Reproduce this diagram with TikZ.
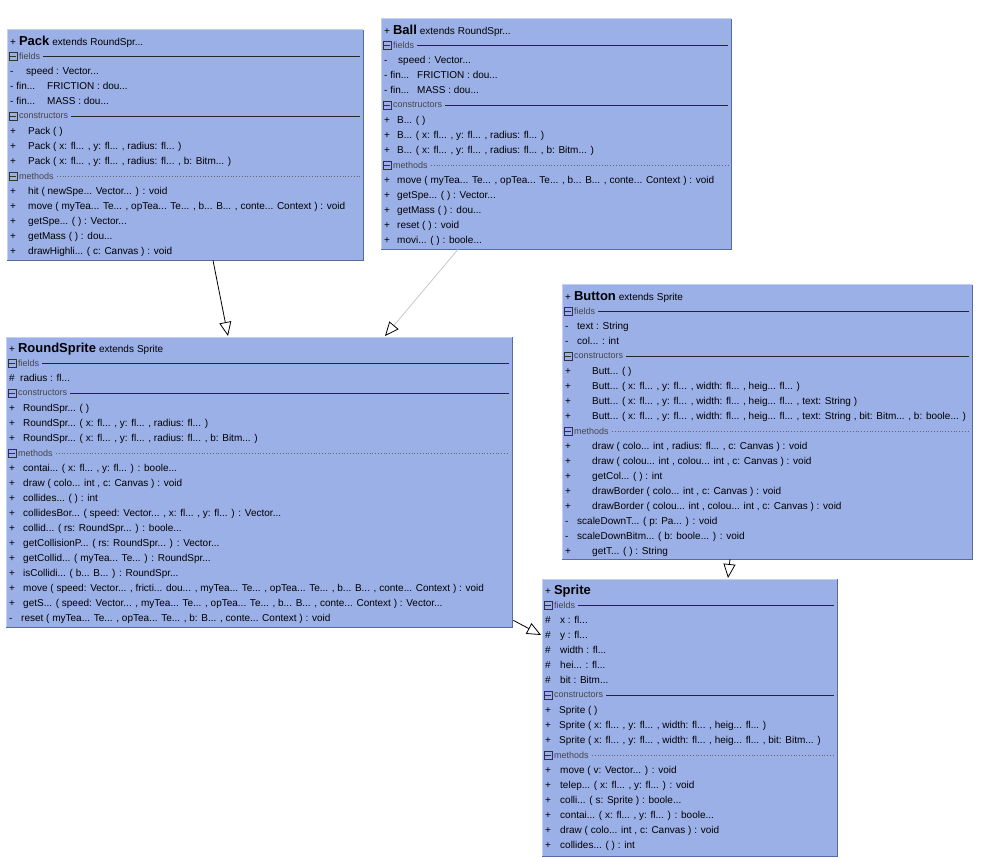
\documentclass[tikz,border=0pt]{standalone}
\usepackage{fontspec}
\setmainfont{Liberation Sans}
\usetikzlibrary{calc,arrows.meta}

\definecolor{umlfill}{RGB}{156,176,232}
\definecolor{umldark}{RGB}{90,106,156}
\definecolor{umllight}{RGB}{196,208,242}
\definecolor{seclabelcol}{RGB}{70,70,70}

\newcommand\rowfont{\fontsize{10}{12}\selectfont}
\newcommand\secfont{\fontsize{9}{10}\selectfont}
\newcommand\titlefont{\fontsize{13}{15}\selectfont\bfseries}

\tikzset{
  classbox/.style={rectangle, fill=umlfill, draw=none, inner sep=0pt, anchor=north west},
  edgelight/.style={draw=umllight, line width=1pt},
  edgedark/.style={draw=umldark, line width=1.6pt},
  rowtext/.style={anchor=base west, inner sep=0pt, font=\rowfont, text=black},
  seclabel/.style={inner sep=0pt, font=\secfont, text=seclabelcol},
  togglebox/.style={rectangle, draw=black!80, line width=0.7pt, inner sep=0pt, minimum size=8pt},
  toggleminus/.style={draw=black!80, line width=0.7pt},
  solidsep/.style={draw=black!85, line width=0.8pt},
  dottedsep/.style={draw=black!60, line width=0.8pt, dotted},
  inherit/.style={draw=black, line width=0.8pt,
    -{Triangle[length=14pt, width=12pt, fill=white, color=black]}},
  inheritlight/.style={draw=black!22, line width=0.8pt,
    -{Triangle[length=14pt, width=12pt, fill=white, color=black]}},
}

% class box: name, left, top, width, height
\newcommand\umlbox[5]{%
  \node[classbox, minimum width=#4pt, minimum height=#5pt] (#1) at (#2,#3) {};
  \draw[edgelight] (#1.south west) -- (#1.north west) -- (#1.north east);
  \draw[edgedark] (#1.north east) -- (#1.south east) -- (#1.south west);
}
% title row: box, class name, rest of the heading
\newcommand\umltitle[3]{%
  \node[rowtext] (#1-title) at ($(#1.north west)+(3,15.5)$)
    {+\hspace{3pt}{\titlefont #2}\hspace{3pt}#3};
}
% member row: box, row index, text indent, marker, text
\newcommand\umlrow[5]{%
  \node[rowtext] (#1-m#2) at ($(#1.north west)+(3,{14.5+15*#2})$) {#4};
  \node[rowtext] (#1-t#2) at ($(#1.north west)+(#3,{14.5+15*#2})$) {#5};
}
% section heading: box, row index, label, separator style
\newcommand\umlsec[4]{%
  \coordinate (#1-c#2) at ($(#1.north west)+(6,{11+15*#2})$);
  \node[togglebox] (#1-b#2) at (#1-c#2) {};
  \draw[toggleminus] ($(#1-b#2.west)+(1.6,0)$) -- ($(#1-b#2.east)+(-1.6,0)$);
  \node[seclabel, anchor=west] (#1-s#2) at ($(#1-c#2)+(6,0)$) {#3};
  \draw[#4] ($(#1-s#2.east)+(3,0)$) -- ($(#1-s#2.east -| #1.east)+(-3,0)$);
}

\begin{document}
\begin{tikzpicture}[x=1pt, y=-1pt]
\useasboundingbox (0,0) rectangle (995,858);

% ---------------- Pack ----------------
\umlbox{pack}{7}{30}{356}{230}
\umltitle{pack}{Pack}{extends\hspace{3pt}RoundSpr...}
\umlsec{pack}{1}{fields}{solidsep}
\umlrow{pack}{2}{19}{-}{speed : Vector...}
\umlrow{pack}{3}{40}{- fin...}{FRICTION : dou...}
\umlrow{pack}{4}{40}{- fin...}{MASS : dou...}
\umlsec{pack}{5}{constructors}{solidsep}
\umlrow{pack}{6}{21}{+}{Pack ( )}
\umlrow{pack}{7}{21}{+}{Pack ( x: fl... , y: fl... , radius: fl... )}
\umlrow{pack}{8}{21}{+}{Pack ( x: fl... , y: fl... , radius: fl... , b: Bitm... )}
\umlsec{pack}{9}{methods}{dottedsep}
\umlrow{pack}{10}{21}{+}{hit ( newSpe... Vector... ) : void}
\umlrow{pack}{11}{21}{+}{move ( myTea... Te... , opTea... Te... , b... B... , conte... Context ) : void}
\umlrow{pack}{12}{21}{+}{getSpe... ( ) : Vector...}
\umlrow{pack}{13}{21}{+}{getMass ( ) : dou...}
\umlrow{pack}{14}{21}{+}{drawHighli... ( c: Canvas ) : void}

% ---------------- Ball ----------------
\umlbox{ball}{381}{19}{350}{230}
\umltitle{ball}{Ball}{extends\hspace{3pt}RoundSpr...}
\umlsec{ball}{1}{fields}{solidsep}
\umlrow{ball}{2}{17}{-}{speed : Vector...}
\umlrow{ball}{3}{36}{- fin...}{FRICTION : dou...}
\umlrow{ball}{4}{36}{- fin...}{MASS : dou...}
\umlsec{ball}{5}{constructors}{solidsep}
\umlrow{ball}{6}{16}{+}{B... ( )}
\umlrow{ball}{7}{16}{+}{B... ( x: fl... , y: fl... , radius: fl... )}
\umlrow{ball}{8}{16}{+}{B... ( x: fl... , y: fl... , radius: fl... , b: Bitm... )}
\umlsec{ball}{9}{methods}{dottedsep}
\umlrow{ball}{10}{16}{+}{move ( myTea... Te... , opTea... Te... , b... B... , conte... Context ) : void}
\umlrow{ball}{11}{16}{+}{getSpe... ( ) : Vector...}
\umlrow{ball}{12}{16}{+}{getMass ( ) : dou...}
\umlrow{ball}{13}{16}{+}{reset ( ) : void}
\umlrow{ball}{14}{16}{+}{movi... ( ) : boole...}

% ---------------- RoundSprite ----------------
\umlbox{rs}{6}{337}{506}{290}
\umltitle{rs}{RoundSprite}{extends\hspace{3pt}Sprite}
\umlsec{rs}{1}{fields}{solidsep}
\umlrow{rs}{2}{14}{\#}{radius : fl...}
\umlsec{rs}{3}{constructors}{solidsep}
\umlrow{rs}{4}{17}{+}{RoundSpr... ( )}
\umlrow{rs}{5}{17}{+}{RoundSpr... ( x: fl... , y: fl... , radius: fl... )}
\umlrow{rs}{6}{17}{+}{RoundSpr... ( x: fl... , y: fl... , radius: fl... , b: Bitm... )}
\umlsec{rs}{7}{methods}{dottedsep}
\umlrow{rs}{8}{17}{+}{contai... ( x: fl... , y: fl... ) : boole...}
\umlrow{rs}{9}{17}{+}{draw ( colo... int , c: Canvas ) : void}
\umlrow{rs}{10}{17}{+}{collides... ( ) : int}
\umlrow{rs}{11}{17}{+}{collidesBor... ( speed: Vector... , x: fl... , y: fl... ) : Vector...}
\umlrow{rs}{12}{17}{+}{collid... ( rs: RoundSpr... ) : boole...}
\umlrow{rs}{13}{17}{+}{getCollisionP... ( rs: RoundSpr... ) : Vector...}
\umlrow{rs}{14}{17}{+}{getCollid... ( myTea... Te... ) : RoundSpr...}
\umlrow{rs}{15}{17}{+}{isCollidi... ( b... B... ) : RoundSpr...}
\umlrow{rs}{16}{17}{+}{move ( speed: Vector... , fricti... dou... , myTea... Te... , opTea... Te... , b... B... , conte... Context ) : void}
\umlrow{rs}{17}{17}{+}{getS... ( speed: Vector... , myTea... Te... , opTea... Te... , b... B... , conte... Context ) : Vector...}
\umlrow{rs}{18}{15}{-}{reset ( myTea... Te... , opTea... Te... , b: B... , conte... Context ) : void}

% ---------------- Button ----------------
\umlbox{button}{562}{285}{410}{274}
\umltitle{button}{Button}{extends\hspace{3pt}Sprite}
\umlsec{button}{1}{fields}{solidsep}
\umlrow{button}{2}{15}{-}{text : String}
\umlrow{button}{3}{15}{-}{col... : int}
\umlsec{button}{4}{constructors}{solidsep}
\umlrow{button}{5}{30}{+}{Butt... ( )}
\umlrow{button}{6}{30}{+}{Butt... ( x: fl... , y: fl... , width: fl... , heig... fl... )}
\umlrow{button}{7}{30}{+}{Butt... ( x: fl... , y: fl... , width: fl... , heig... fl... , text: String )}
\umlrow{button}{8}{30}{+}{Butt... ( x: fl... , y: fl... , width: fl... , heig... fl... , text: String , bit: Bitm... , b: boole... )}
\umlsec{button}{9}{methods}{dottedsep}
\umlrow{button}{10}{30}{+}{draw ( colo... int , radius: fl... , c: Canvas ) : void}
\umlrow{button}{11}{30}{+}{draw ( colou... int , colou... int , c: Canvas ) : void}
\umlrow{button}{12}{30}{+}{getCol... ( ) : int}
\umlrow{button}{13}{30}{+}{drawBorder ( colo... int , c: Canvas ) : void}
\umlrow{button}{14}{30}{+}{drawBorder ( colou... int , colou... int , c: Canvas ) : void}
\umlrow{button}{15}{15}{-}{scaleDownT... ( p: Pa... ) : void}
\umlrow{button}{16}{15}{-}{scaleDownBitm... ( b: boole... ) : void}
\umlrow{button}{17}{30}{+}{getT... ( ) : String}

% ---------------- Sprite ----------------
\umlbox{sprite}{542}{579}{295}{277}
\umltitle{sprite}{Sprite}{}
\umlsec{sprite}{1}{fields}{solidsep}
\umlrow{sprite}{2}{18}{\#}{x : fl...}
\umlrow{sprite}{3}{18}{\#}{y : fl...}
\umlrow{sprite}{4}{18}{\#}{width : fl...}
\umlrow{sprite}{5}{18}{\#}{hei... : fl...}
\umlrow{sprite}{6}{18}{\#}{bit : Bitm...}
\umlsec{sprite}{7}{constructors}{solidsep}
\umlrow{sprite}{8}{17}{+}{Sprite ( )}
\umlrow{sprite}{9}{17}{+}{Sprite ( x: fl... , y: fl... , width: fl... , heig... fl... )}
\umlrow{sprite}{10}{17}{+}{Sprite ( x: fl... , y: fl... , width: fl... , heig... fl... , bit: Bitm... )}
\umlsec{sprite}{11}{methods}{dottedsep}
\umlrow{sprite}{12}{18}{+}{move ( v: Vector... ) : void}
\umlrow{sprite}{13}{18}{+}{telep... ( x: fl... , y: fl... ) : void}
\umlrow{sprite}{14}{18}{+}{colli... ( s: Sprite ) : boole...}
\umlrow{sprite}{15}{18}{+}{contai... ( x: fl... , y: fl... ) : boole...}
\umlrow{sprite}{16}{18}{+}{draw ( colo... int , c: Canvas ) : void}
\umlrow{sprite}{17}{18}{+}{collides... ( ) : int}

% ---------------- generalisations ----------------
\draw[inherit] ($(pack.south west)+(206,0)$) -- ($(rs.north west)+(222,-1)$);
\draw[inheritlight] ($(ball.south west)+(77,0)$) -- ($(rs.north west)+(379,-1)$);
\draw[inherit] ($(button.south west)+(168,0)$) -- ($(sprite.north west)+(186,-1)$);
\draw[inherit] ($(rs.south east)+(1,-7)$) -- ($(sprite.north west)+(-1,56)$);
\end{tikzpicture}
\end{document}
